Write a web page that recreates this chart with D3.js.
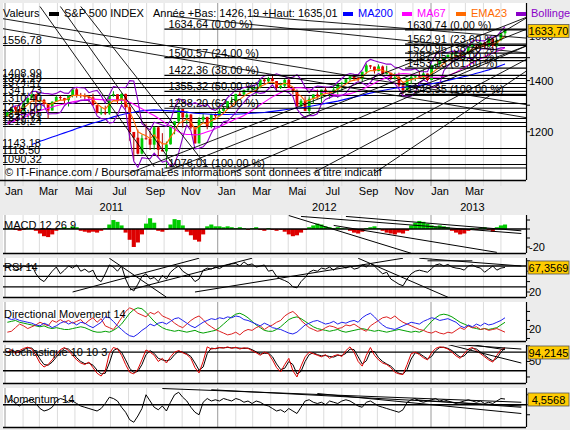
<!DOCTYPE html>
<html><head><meta charset="utf-8">
<script src="https://cdn.jsdelivr.net/npm/d3@7"></script>
<style>body{margin:0;background:#ececec;}svg{display:block;font-family:Arial,"Liberation Sans",sans-serif;}</style>
</head><body><svg id="c" width="570" height="430"></svg>
<script>
// ---------- DATA (weekly, Jan 2011 - May 2013) ----------
const opens=[1257.6,1271.5,1293.2,1283.4,1276.3,1310.9,1329.2,1343.0,1320.0,1321.2,
1304.3,1279.2,1313.8,1332.4,1328.2,1319.7,1337.4,1363.6,1340.2,1337.8,
1333.3,1331.1,1300.2,1271.0,1271.5,1268.5,1339.7,1343.8,1316.1,1345.0,
1292.3,1199.4,1178.8,1123.5,1176.8,1174.0,1154.2,1216.0,1136.4,1131.4,
1155.5,1224.6,1238.3,1285.1,1253.2,1263.9,1215.7,1158.7,1244.3,1255.2,
1219.7,1265.3,1257.6,1277.8,1289.1,1315.4,1316.3,1344.9,1342.6,1361.2,
1365.7,1369.6,1370.9,1404.2,1397.1,1408.5,1398.1,1370.3,1378.5,1403.4,
1369.1,1353.4,1295.2,1317.8,1278.0,1325.7,1342.8,1335.0,1362.2,1354.7,
1356.8,1362.7,1386.0,1391.0,1405.9,1418.2,1411.1,1406.6,1437.9,1465.8,
1460.2,1440.7,1460.9,1428.6,1433.2,1411.9,1414.2,1379.9,1359.9,1409.2,
1416.2,1418.1,1413.6,1430.2,1402.4,1466.5,1472.1,1486.0,1503.0,1513.2,
1517.9,1519.8,1515.6,1518.2,1551.2,1560.7,1556.9,1569.2,1553.3,1588.9,
1555.3,1582.2,1614.4];
const closes=[1271.5,1293.2,1283.4,1276.3,1310.9,1329.2,1343.0,1320.0,1321.2,1304.3,
1279.2,1313.8,1332.4,1328.2,1319.7,1337.4,1363.6,1340.2,1337.8,1333.3,
1331.1,1300.2,1271.0,1271.5,1268.5,1339.7,1343.8,1316.1,1345.0,1292.3,
1199.4,1178.8,1123.5,1176.8,1174.0,1154.2,1216.0,1136.4,1131.4,1155.5,
1224.6,1238.3,1285.1,1253.2,1263.9,1215.7,1158.7,1244.3,1255.2,1219.7,
1265.3,1257.6,1277.8,1289.1,1315.4,1316.3,1344.9,1342.6,1361.2,1365.7,
1369.6,1370.9,1404.2,1397.1,1408.5,1398.1,1370.3,1378.5,1403.4,1369.1,
1353.4,1295.2,1317.8,1278.0,1325.7,1342.8,1335.0,1362.2,1354.7,1356.8,
1362.7,1386.0,1391.0,1405.9,1418.2,1411.1,1406.6,1437.9,1465.8,1460.2,
1440.7,1460.9,1428.6,1433.2,1411.9,1414.2,1379.9,1359.9,1409.2,1416.2,
1418.1,1413.6,1430.2,1402.4,1466.5,1472.1,1486.0,1503.0,1513.2,1517.9,
1519.8,1515.6,1518.2,1551.2,1560.7,1556.9,1569.2,1553.3,1588.9,1555.3,
1582.2,1614.4,1633.7];
const highs=[1278,1293,1296,1302,1311,1331,1344,1344,1332,1325,
1304,1315,1337,1339,1329,1339,1364,1370,1349,1347,
1335,1346,1300,1292,1298,1341,1356,1343,1347,1346,
1307,1199,1208,1190,1230,1204,1220,1220,1195,1165,
1225,1239,1293,1285,1277,1266,1215,1254,1267,1255,
1267,1269,1285,1296,1316,1333,1345,1354,1362,1368,
1378,1374,1405,1409,1416,1422,1398,1391,1406,1415,
1370,1363,1325,1335,1335,1344,1363,1362,1374,1357,
1380,1389,1395,1407,1418,1427,1414,1438,1474,1467,
1460,1470,1465,1464,1434,1434,1434,1388,1410,1420,
1421,1438,1448,1430,1467,1473,1486,1503,1514,1519,
1524,1530,1525,1552,1564,1563,1570,1574,1594,1593,
1585,1618,1635];
const lows=[1257,1262,1275,1270,1276,1302,1325,1295,1302,1295,
1249,1279,1313,1320,1305,1295,1331,1330,1329,1318,
1311,1297,1268,1262,1262,1263,1333,1304,1295,1283,
1168,1101,1121,1121,1172,1136,1137,1114,1131,1075,
1155,1191,1228,1215,1227,1209,1158,1159,1232,1209,
1213,1248,1258,1275,1286,1307,1300,1337,1340,1356,
1354,1340,1368,1385,1386,1397,1357,1365,1371,1369,
1343,1291,1291,1277,1266,1306,1325,1309,1348,1325,
1345,1329,1354,1391,1397,1399,1397,1397,1429,1450,
1430,1440,1425,1426,1403,1404,1373,1343,1359,1385,
1398,1412,1410,1398,1401,1451,1463,1482,1496,1495,
1510,1485,1486,1514,1547,1538,1546,1539,1549,1536,
1549,1577,1598];
const ma200=[null,null,null,null,null,null,1155,1160,1166,1171,
1176,1181,1186,1191,1196,1201,1206,1212,1217,1222,
1227,1232,1236,1240,1245,1250,1255,1259,1263,1267,
1270,1273,1276,1278,1280,1281,1282,1281,1280,1279,
1278,1277,1276,1275,1273,1271,1269,1268,1267,1266,
1265,1264,1264,1264,1264,1265,1265,1266,1267,1268,
1269,1270,1271,1272,1274,1276,1278,1280,1282,1284,
1286,1288,1290,1292,1295,1298,1301,1304,1307,1310,
1313,1316,1320,1324,1328,1332,1336,1340,1344,1348,
1352,1356,1359,1362,1365,1368,1370,1372,1374,1376,
1378,1380,1382,1384,1387,1390,1393,1397,1401,1405,
1409,1413,1417,1421,1426,1431,1436,1441,1446,1452,
1458,1465,1472];
const ma67=[1228,1235,1241,1247,1253,1260,1267,1273,1279,1284,
1288,1293,1298,1302,1305,1309,1313,1316,1318,1321,
1323,1324,1323,1322,1320,1321,1321,1320,1320,1318,
1312,1304,1294,1286,1277,1268,1260,1250,1240,1229,
1220,1210,1200,1193,1190,1190,1189,1190,1195,1200,
1205,1211,1219,1226,1233,1240,1248,1253,1260,1270,
1280,1290,1302,1312,1323,1333,1342,1350,1358,1364,
1368,1370,1370,1368,1365,1361,1357,1353,1349,1345,
1342,1340,1340,1342,1346,1351,1357,1364,1372,1380,
1389,1398,1406,1413,1420,1425,1428,1430,1429,1427,
1424,1421,1418,1415,1414,1414,1415,1418,1422,1428,
1436,1446,1456,1466,1476,1486,1495,1504,1513,1521,
1528,1536,1545];
const ema23=[1257,1270,1275,1275,1288,1302,1316,1317,1319,1314,
1302,1306,1315,1320,1320,1326,1339,1339,1339,1337,
1335,1323,1305,1293,1284,1304,1318,1317,1327,1315,
1275,1241,1200,1192,1186,1175,1189,1171,1157,1157,
1181,1201,1230,1238,1247,1236,1209,1221,1233,1228,
1241,1247,1258,1269,1285,1296,1313,1323,1336,1346,
1354,1360,1375,1383,1392,1394,1386,1383,1390,1383,
1373,1346,1336,1316,1319,1327,1330,1341,1346,1350,
1354,1365,1374,1385,1397,1402,1404,1416,1433,1443,
1442,1449,1442,1439,1430,1424,1409,1392,1398,1404,
1409,1411,1418,1412,1431,1445,1459,1474,1488,1498,
1506,1509,1512,1526,1538,1545,1553,1553,1566,1562,
1569,1585,1602];
const bbUpper=[1275,1290,1298,1299,1316,1335,1355,1356,1350,1347,
1346,1343,1347,1356,1348,1347,1367,1372,1370,1369,
1350,1356,1359,1338,1308,1342,1375,1372,1371,1370,
1400,1398,1318,1230,1218,1207,1235,1230,1225,1220,
1242,1290,1326,1320,1305,1304,1310,1302,1297,1303,
1285,1280,1293,1307,1330,1345,1361,1365,1371,1375,
1378,1382,1407,1420,1425,1422,1429,1423,1417,1410,
1415,1425,1405,1372,1350,1370,1377,1375,1373,1374,
1377,1394,1409,1424,1430,1427,1425,1446,1480,1492,
1486,1481,1476,1471,1472,1457,1455,1446,1446,1446,
1451,1439,1438,1438,1483,1513,1528,1522,1524,1530,
1528,1531,1530,1556,1577,1582,1579,1578,1595,1596,
1600,1625,1647];
const bbLower=[1235,1240,1248,1263,1266,1265,1275,1296,1306,1297,
1266,1267,1267,1272,1298,1311,1307,1312,1320,1319,
1320,1296,1259,1248,1248,1232,1235,1262,1301,1280,
1180,1098,1078,1110,1108,1107,1125,1110,1095,1100,
1082,1090,1126,1180,1225,1204,1140,1142,1147,1163,
1195,1220,1217,1237,1240,1255,1271,1295,1311,1331,
1342,1352,1347,1350,1365,1382,1359,1353,1357,1350,
1335,1285,1265,1252,1260,1260,1267,1305,1323,1330,
1337,1334,1339,1348,1370,1387,1395,1390,1380,1392,
1416,1431,1420,1411,1396,1387,1365,1336,1336,1336,
1351,1389,1402,1394,1373,1373,1388,1442,1464,1480,
1498,1501,1506,1496,1497,1512,1539,1542,1539,1536,
1540,1545,1547];
const macdHist=[0.5,1,-1,-2,-1,1,0.5,-2,-5,-8,
-9,-6,-2,1,2,1,3,2,-2,-3,
-4,-3,-4,-2,1,5,10,8,4,-4,
-12,-20,-15,-6,6,12,7,-2,-3,-1,
5,11,10,4,-3,-7,-12,-14,-6,3,
5,3,3,2,3,2,1,2,1,-1,
1,2,-1,-2,1,-1,-2,-1,-3,-6,
-8,-7,-4,-1,2,4,6,5,3,2,
1,2,1,0.5,-2,-4,-5,-3,1,2,
3,1,-2,-4,-5,-6,-4,-5,-2,4,
7,9,8,6,4,3,4,3,2,-2,
-4,-6,-5,-2,1,-1,1,2,-1,-3,
2,4,5];
const rsi=[67,72,62,64,70,68,72,55,45,40,
50,60,68,55,62,70,66,72,60,64,
58,62,45,40,55,72,68,60,70,45,
28,22,35,50,55,45,48,40,52,45,
58,65,70,60,55,50,40,45,62,66,
64,68,65,70,72,74,75,70,78,72,
74,68,70,72,60,62,50,45,42,38,
30,28,40,48,58,62,60,66,64,68,
62,68,70,66,70,64,66,72,68,75,
70,62,55,58,45,40,35,32,45,55,
60,62,60,58,65,72,74,70,73,68,
66,65,62,70,72,68,66,58,64,70,
62,66,67.36];
const adx=[28,29,30,28,27,26,25,24,23,24,
22,21,22,21,20,20,21,22,23,22,
20,18,17,17,18,17,19,22,26,32,
38,42,44,43,39,34,29,25,22,20,
19,18,19,18,17,18,19,17,16,17,
18,19,22,26,30,34,37,38,36,33,
29,25,22,19,18,18,20,23,27,31,
33,34,32,29,26,23,21,20,19,18,
19,20,18,17,18,19,20,21,20,19,
18,19,18,17,18,19,20,19,18,17,
18,17,19,24,29,33,36,37,36,34,
31,28,26,24,22,21,20,21,20,21,
22,25,28];
const diMinus=[17,18,22,26,24,21,23,25,28,26,
24,30,28,31,28,30,27,29,31,26,
30,33,28,32,24,22,20,26,33,40,
44,42,38,36,34,39,37,40,35,33,
31,27,24,22,26,30,33,35,31,26,
23,20,18,16,14,15,17,14,18,20,
19,22,24,20,23,25,28,30,35,38,
40,36,30,26,22,20,18,19,22,24,
23,21,22,25,24,26,23,20,18,24,
27,30,33,34,32,35,31,28,26,24,
22,20,19,17,16,18,16,15,17,16,
19,22,20,24,22,23,20,21,19,20,
21,19,17];
const diPlus=[33,31,32,30,29,28,27,25,24,27,
25,22,24,27,29,26,28,25,28,27,
24,22,25,28,34,33,29,24,20,16,
13,12,15,19,22,26,24,27,28,26,
29,32,33,30,27,24,22,25,28,30,
32,31,33,32,34,33,35,34,31,30,
28,26,24,27,25,22,21,20,18,16,
15,17,21,25,27,29,30,28,26,27,
29,26,28,27,29,30,28,33,36,38,
34,29,25,22,21,20,22,24,26,28,
27,26,29,31,33,32,30,31,32,30,
28,24,22,25,23,26,24,27,25,26,
28,30,33];
const stochK=[80,88,75,85,92,96,90,70,45,32,
40,55,72,88,95,85,70,55,45,40,
48,30,12,3,20,75,95,90,70,40,
15,10,25,55,87,80,70,50,60,45,
65,80,85,78,72,60,30,13,50,97,
90,92,95,93,97,92,96,90,94,92,
85,78,70,80,75,55,30,16,40,60,
20,0,35,65,80,75,70,65,72,60,
68,72,66,85,97,80,50,35,70,95,
70,55,45,40,30,15,10,8,40,75,
80,72,62,55,78,92,97,95,90,80,
68,60,75,90,95,85,75,65,55,48,
70,88,94.2];
const stochD=[78,84,80,80,88,94,93,80,58,40,
38,48,64,80,92,90,78,62,50,43,
45,38,22,10,12,45,85,92,80,55,
28,14,18,40,72,85,76,60,55,52,
56,72,83,80,75,66,45,22,32,75,
93,91,94,94,95,94,94,93,92,93,
88,81,74,76,77,65,42,24,28,50,
40,10,18,50,72,78,72,68,69,66,
64,70,69,76,90,88,65,42,52,82,
82,62,50,42,35,22,12,9,24,58,
78,76,67,58,66,85,95,96,92,85,
74,64,68,82,92,90,80,70,60,52,
60,80,92.5];
const momentum=[2,4,1,-1,2,3,4,1,-3,-5,
-4,-2,3,5,4,2,3,1,-1,-2,
-3,-4,-5,-3,1,6,5,3,-2,-6,
-12,-14,-9,-3,8,3,-2,-4,-1,-5,
2,8,10,6,3,-2,-6,-8,2,5,
3,4,3,5,4,3,5,4,2,3,
1,3,2,0,-1,-3,-5,-4,-6,-3,
-5,-7,-2,3,4,2,1,2,0,3,
2,1,3,4,3,1,-1,-2,2,3,
1,-1,-2,-3,-4,-5,-6,-4,2,4,
5,3,2,3,4,5,3,4,3,2,
1,2,3,4,3,2,3,1,2,1,
3,5,4.56];

// support / resistance levels (left labels)
const hLevels=[1556.78,1408.99,1391.29,1374.47,1341.73,1310.40,1274.00,1249.05,1237.71,1219.24,1143.18,1118.50,1090.32];
const hLabels=["1556,78","1408,99","1391,29","1374,47","1341,73","1310,40","1274,00","1249,05","1237,71","1219,24","1143,18","1118,50","1090,32"];
// Fibonacci retracements
const fib1Levels=[1634.64,1500.57,1422.36,1355.32,1288.20,1076.01];
const fib1Pct=["0,00","24,00","38,00","50,00","62,00","100,00"];
const fib2Levels=[1630.74,1562.91,1520.96,1487.05,1453.13,1343.35];
const fib2Pct=["0,00","23,60","38,20","50,00","61,80","100,00"];
// trend lines: [week1, price1, week2, price2]
const trendMain=[
 [8,1750,36,1080],[13,1750,41,1080],[18,1750,49,1080],
 [-2,1690,128,1300],[-2,1640,128,1250],
 [40,1700,128,1520],[60,1700,128,1590],
 [30,1060,128,1700],[38,1060,128,1640],[55,1060,128,1560],[75,1060,128,1500],[90,1060,128,1450],
 [96,1343,128,1560],[96,1343,128,1700]
];
const trendMacd=[[69,15,99,-27],[72,14,126,-5],[83,14,126,-2],[80,4,120,-26]];
const trendRsi=[[25,85,39,10],[16,20,47,85],[30,24,60,85],[46,20,97,85],[86,85,108,10],[101,85,126,70],[103,80,114,80]];
const trendStoch=[[106,108,126,90],[107,108,126,45],[114,104,122,88]];
const trendMom=[[38,13,126,2],[50,12,126,-1],[76,9,126,-7],[100,4,126,-2]];

const monthNames=["Jan","Mar","Mai","Jul","Sep","Nov"];
const years=["2011","2012","2013"];

// ---------- LAYOUT ----------
const svg=d3.select("#c");
const XL=3, XR=526;
const x=d3.scaleTime().domain([new Date(2011,0,1),new Date(2013,0,1)]).range([5,431]);
const weeks=d3.timeWednesday.range(new Date(2011,0,4),new Date(2013,4,10));
const xi=i=>x(new Date(+weeks[0]+i*7*864e5));

svg.append("rect").attr("width",570).attr("height",430).attr("fill","#ececec");

const panels={
 main:{top:3,bottom:180,y:d3.scaleLog().domain([1037.8,1768.5]).range([180,3])},
 macd:{top:215,bottom:253,y:d3.scaleLinear().domain([-26.7,15.6]).range([253,215])},
 rsi:{top:258,bottom:297,y:d3.scaleLinear().domain([10.4,85.4]).range([297,258])},
 dm:{top:302,bottom:341,y:d3.scaleLinear().domain([7.2,50.5]).range([341,302])},
 sto:{top:345,bottom:383,y:d3.scaleLinear().domain([-19.4,103]).range([383,345])},
 mom:{top:388,bottom:427,y:d3.scaleLinear().domain([-17.8,13.4]).range([427,388])}
};
const months=d3.timeMonth.range(new Date(2011,0,1),new Date(2013,5,1)).filter(d=>x(d)<XR);

Object.entries(panels).forEach(([k,p])=>{
 const g=svg.append("g");
 p.g=g;
 g.append("rect").attr("x",XL).attr("y",p.top).attr("width",XR-XL).attr("height",p.bottom-p.top).attr("fill","#fff");
 const cid="clip-"+k;
 svg.append("clipPath").attr("id",cid).append("rect").attr("x",XL).attr("y",p.top).attr("width",XR-XL).attr("height",p.bottom-p.top);
 g.selectAll("line.m").data(months).join("line")
  .attr("x1",d=>x(d)).attr("x2",d=>x(d)).attr("y1",p.top).attr("y2",p.bottom+(k==="main"?6:0))
  .attr("stroke",d=>d.getMonth()===0?"#9a9a9a":"#dcdcdc").attr("stroke-width",1);
 p.c=svg.append("g").attr("clip-path",`url(#${cid})`);
});

const line=(sc,arr)=>d3.line().defined(d=>d!=null).x((d,i)=>xi(i)).y(d=>sc(d))(arr);

// ---------- MAIN PANEL ----------
const M=panels.main, my=M.y, mc=M.c;
mc.selectAll("line.h").data(hLevels).join("line")
 .attr("x1",0).attr("x2",XR).attr("y1",d=>Math.round(my(d))+0.5).attr("y2",d=>Math.round(my(d))+0.5)
 .attr("stroke","#000").attr("stroke-width",1.2);
const cand=mc.append("g");
closes.forEach((c,i)=>{
 const o=opens[i],up=c>=o,col=up?"#00cc00":"#e00000";
 cand.append("line").attr("x1",xi(i)).attr("x2",xi(i)).attr("y1",my(highs[i])).attr("y2",my(lows[i])).attr("stroke",up?"#009000":"#b00000").attr("stroke-width",1);
 const y1=my(Math.max(o,c)),y2=my(Math.min(o,c));
 cand.append("rect").attr("x",xi(i)-1.4).attr("width",2.8).attr("y",y1).attr("height",Math.max(1,y2-y1)).attr("fill",col);
});
[[ma200,"#0000ff"],[ma67,"#ff00ff"],[ema23,"#ff6a00"],[bbUpper,"#8a00c8"],[bbLower,"#8a00c8"]].forEach(([a,c])=>{
 mc.append("path").attr("d",line(my,a)).attr("fill","none").attr("stroke",c).attr("stroke-width",1.1);
});
const fibX1=xi(38.5), fib2X1=xi(97.5);
mc.selectAll("line.f1").data(fib1Levels).join("line")
 .attr("x1",fibX1).attr("x2",XR).attr("y1",d=>my(d)).attr("y2",d=>my(d)).attr("stroke","#000").attr("stroke-width",1.2);
mc.selectAll("text.f1").data(fib1Levels).join("text")
 .attr("x",fibX1+4).attr("y",d=>my(d)-1).attr("font-size",11).text((d,i)=>d.toFixed(2).replace(".",",")+" ("+fib1Pct[i]+" %)");
mc.selectAll("line.f2").data(fib2Levels).join("line")
 .attr("x1",fib2X1).attr("x2",XR).attr("y1",d=>my(d)).attr("y2",d=>my(d)).attr("stroke","#000").attr("stroke-width",1.2);
mc.selectAll("text.f2").data(fib2Levels).join("text")
 .attr("x",fib2X1+2).attr("y",d=>my(d)-1).attr("font-size",11).text((d,i)=>d.toFixed(2).replace(".",",")+" ("+fib2Pct[i]+" %)");
mc.selectAll("line.t").data(trendMain).join("line")
 .attr("x1",d=>xi(d[0])).attr("y1",d=>my(d[1])).attr("x2",d=>xi(d[2])).attr("y2",d=>my(d[3]))
 .attr("stroke","#000").attr("stroke-width",0.9);
mc.selectAll("text.hl").data(hLevels).join("text")
 .attr("x",2).attr("y",d=>my(d)-1).attr("font-size",11).text((d,i)=>hLabels[i]);
mc.append("text").attr("x",5).attr("y",176).attr("font-size",11)
 .text("© IT-Finance.com / BoursoramaLes informations sont données à titre indicatif");
svg.append("line").attr("x1",0).attr("x2",XR).attr("y1",180.5).attr("y2",180.5).attr("stroke","#000").attr("stroke-width",1.5);
months.forEach(d=>{
 const next=d3.timeMonth.offset(d,1);
 if(d.getMonth()%2===0 && x(next)<=505){
  svg.append("text").attr("x",(x(d)+x(next))/2).attr("y",195).attr("text-anchor","middle").attr("font-size",11)
   .text(monthNames[d.getMonth()/2]);
 }
});
years.forEach((yr,k)=>{
 const a=x(new Date(2011+k,0,1)), b=Math.min(XR-12,x(new Date(2012+k,0,1)));
 svg.append("text").attr("x",(a+b)/2).attr("y",211).attr("text-anchor","middle").attr("font-size",11).text(yr);
});

// ---------- SUB PANELS ----------
const P1=panels.macd;
P1.c.selectAll("rect.h").data(macdHist).join("rect")
 .attr("x",(d,i)=>xi(i)-2.05).attr("width",4.1)
 .attr("y",d=>d>=0?P1.y(d):P1.y(0)).attr("height",d=>Math.abs(P1.y(d)-P1.y(0)))
 .attr("fill",d=>d>=0?"#00cc00":"#dd0000");
P1.c.append("line").attr("x1",XL).attr("x2",XR).attr("y1",P1.y(0)).attr("y2",P1.y(0)).attr("stroke","#000").attr("stroke-width",1.3);
P1.c.selectAll("line.t").data(trendMacd).join("line")
 .attr("x1",d=>xi(d[0])).attr("y1",d=>P1.y(d[1])).attr("x2",d=>xi(d[2])).attr("y2",d=>P1.y(d[3])).attr("stroke","#000").attr("stroke-width",1);
const P2=panels.rsi;
[70,50,30].forEach(v=>P2.c.append("line").attr("x1",XL).attr("x2",XR).attr("y1",P2.y(v)).attr("y2",P2.y(v)).attr("stroke","#000").attr("stroke-width",1.3));
P2.c.append("path").attr("d",line(P2.y,rsi)).attr("fill","none").attr("stroke","#000").attr("stroke-width",1);
P2.c.selectAll("line.t").data(trendRsi).join("line")
 .attr("x1",d=>xi(d[0])).attr("y1",d=>P2.y(d[1])).attr("x2",d=>xi(d[2])).attr("y2",d=>P2.y(d[3])).attr("stroke","#000").attr("stroke-width",1);
const P3=panels.dm;
[[adx,"#00a000"],[diMinus,"#dd2020"],[diPlus,"#2020ee"]].forEach(([a,c])=>P3.c.append("path").attr("d",line(P3.y,a)).attr("fill","none").attr("stroke",c).attr("stroke-width",1));
const P4=panels.sto;
[80,20].forEach(v=>P4.c.append("line").attr("x1",XL).attr("x2",XR).attr("y1",P4.y(v)).attr("y2",P4.y(v)).attr("stroke","#000").attr("stroke-width",1.3));
P4.c.append("path").attr("d",line(P4.y,stochD)).attr("fill","none").attr("stroke","#000").attr("stroke-width",1);
P4.c.append("path").attr("d",line(P4.y,stochK)).attr("fill","none").attr("stroke","#e00000").attr("stroke-width",1);
P4.c.selectAll("line.t").data(trendStoch).join("line")
 .attr("x1",d=>xi(d[0])).attr("y1",d=>P4.y(d[1])).attr("x2",d=>xi(d[2])).attr("y2",d=>P4.y(d[3])).attr("stroke","#000").attr("stroke-width",1);
const P5=panels.mom;
P5.c.append("line").attr("x1",XL).attr("x2",XR).attr("y1",P5.y(0)).attr("y2",P5.y(0)).attr("stroke","#000").attr("stroke-width",1.3);
P5.c.append("path").attr("d",line(P5.y,momentum)).attr("fill","none").attr("stroke","#000").attr("stroke-width",1);
P5.c.selectAll("line.t").data(trendMom).join("line")
 .attr("x1",d=>xi(d[0])).attr("y1",d=>P5.y(d[1])).attr("x2",d=>xi(d[2])).attr("y2",d=>P5.y(d[3])).attr("stroke","#000").attr("stroke-width",1);

const subLabels={macd:"MACD 12 26 9",rsi:"RSI 14",dm:"Directional Movement 14",sto:"Stochastique 10 10 3",mom:"Momentum 14"};
Object.entries(panels).forEach(([k,p])=>{
 if(k!=="main") svg.append("line").attr("x1",XL).attr("x2",XR).attr("y1",p.bottom+0.5).attr("y2",p.bottom+0.5).attr("stroke","#000").attr("stroke-width",1.5);
 svg.append("line").attr("x1",XR+0.5).attr("x2",XR+0.5).attr("y1",p.top).attr("y2",p.bottom).attr("stroke","#000").attr("stroke-width",1.2);
 if(subLabels[k]) svg.append("text").attr("x",4).attr("y",{macd:229,rsi:271,dm:318,sto:356,mom:403}[k]).attr("font-size",11).text(subLabels[k]);
});
const rightAxis=(p,ticks,labels)=>{
 const g=svg.append("g");
 ticks.forEach(t=>g.append("line").attr("x1",XR).attr("x2",XR+4).attr("y1",p.y(t)).attr("y2",p.y(t)).attr("stroke","#000"));
 labels.forEach(t=>g.append("text").attr("x",XR+3).attr("y",p.y(t)+4).attr("font-size",11).text(String(t)));
};
rightAxis(M,[1200,1300,1400,1500,1600],[1200,1400,1600]);
rightAxis(P1,[10,0,-10,-20],[-20]);
rightAxis(P2,[80,60,40,20],[20]);
rightAxis(P3,[40,30,20,10],[20]);
rightAxis(P4,[100,50,0],[50]);
rightAxis(P5,[8,0,-8],[]);
const box=(yc,txt)=>{
 svg.append("rect").attr("x",528).attr("y",yc-6.5).attr("width",41).attr("height",13).attr("fill","#ffcc00").attr("stroke","#555").attr("stroke-width",0.8);
 svg.append("text").attr("x",548.5).attr("y",yc+4).attr("text-anchor","middle").attr("font-size",11).text(txt);
};
box(31,"1633,70");
box(267.5,"67,3569");
box(352.5,"94,2145");
box(399.5,"4,5568");

// ---------- HEADER ----------
const hdr=svg.append("g").attr("font-size",11);
hdr.append("text").attr("x",3).attr("y",17).text("Valeurs");
hdr.append("text").attr("x",153).attr("y",17).text("Année +Bas: 1426,19 +Haut: 1635,01");
const legend=[[49,"#000","S&P 500 INDEX"],[343,"#0000ff","MA200"],[402,"#ff00ff","MA67"],[456,"#ff6a00","EMA23"],[516,"#8a00c8","Bollinger"]];
legend.forEach(([lx,c,t])=>{
 hdr.append("rect").attr("x",lx).attr("y",12).attr("width",10).attr("height",4).attr("fill",c);
 hdr.append("text").attr("x",lx+15).attr("y",17).attr("fill",c).text(t);
});
</script></body></html>
